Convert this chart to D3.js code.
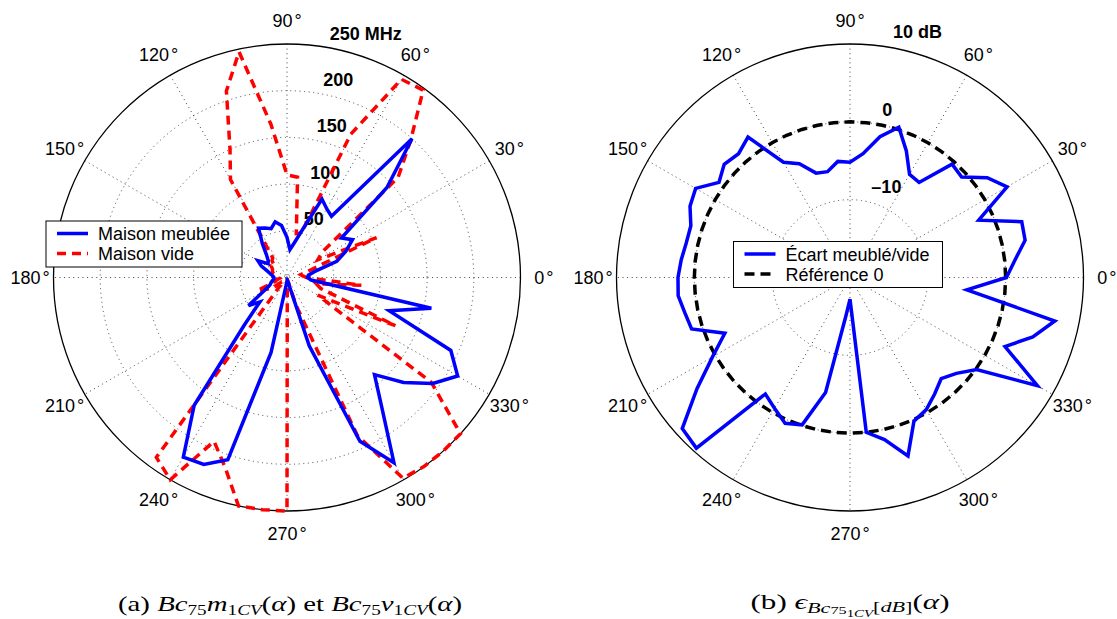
<!DOCTYPE html>
<html><head><meta charset="utf-8">
<script src="https://cdn.jsdelivr.net/npm/d3@7"></script>
<style>
body{margin:0;background:#fff;}
svg text{font-family:"Liberation Sans",Arial,Helvetica,sans-serif;fill:#000;}
</style></head><body>
<svg id="c" width="1117" height="619"></svg>
<script>
// ---------- DATA ----------
const angles = [0,6,12,18,24,30,36,42,48,54,60,66,72,78,84,90,96,102,108,114,120,126,132,138,144,150,156,162,168,174,180,186,192,198,204,210,216,222,228,234,240,246,252,258,264,270,276,282,288,294,300,306,312,318,324,330,336,342,348,354];
const meublee = [22,23,30,56,69,81,72,144,200,81, 85,92,54,38,30,43,56,61,55,58, 61,45,33,27,25,36,30,22,18,15, 14,14,16,18,20,28,51,39,68,169, 222,219,205,82,8,4,3,4,77,192, 229,173,140,168,193,211,192,115,158,26];
const vide = [21,17,15,27,105,38,47,160,198,248, 245,168,50,48,108,110,165,247,210,150, 121,26,24,18,21,18,17,16,13,10, 9,8,11,13,35,25,19,5,8,238, 250,192,214,250,250,250,3,3,31,185, 248,250,250,250,191,38,127,38,32,80];
const ecart = [0.1,1.3,3.0,3.2,-1.9,3.3,1.8,-0.7,-0.4,-4.9, -4.7,-2.2,0.3,-1.5,-4.0,-5.2,-5.0,-6.1,-5.9,-4.0, -2.9,2.3,1.4,1.75,0.8,2.9,2.5,1.5,1.5,1.8, 2.1,2.2,1.7,1.4,-2.4,0.4,4.3,9.0,9.5,-1.5, -0.6,0.5,-0.1,-4.9,-15.1,-17.2,0.0,1.3,4.1,0.2, -0.4,-1.5,-2.5,-1.6,0.1,7.8,1.8,4.7,6.9,-4.9];
const reference = 0;
const angleTicks = [0,30,60,90,120,150,180,210,240,270,300,330];
const mhzRings = [50,100,150,200];
const mhzLabelVals = [50,100,150,200,250];
const mhzLabels = ["50","100","150","200","250 MHz"];
const dbRings = [-10,0];
const dbLabelVals = [-10,0,10];
const dbLabels = ["\u201310","0","10 dB"];
const legendA = ["Maison meublée","Maison vide"];
const legendB = ["Écart meublé/vide","Référence 0"];

// ---------- LAYOUT ----------
const svg = d3.select("#c");
const R = 233.5;
const rad = d => d*Math.PI/180;

function polarFrame(cx, cy, rs, rMax, rings, labelVals, labels, rinc){
  const g = svg.append("g").attr("transform",`translate(${cx},${cy})`);
  const dot = {stroke:"#444","stroke-width":1,"stroke-dasharray":"1,3.6",fill:"none"};
  [0,30,60,90,120,150].forEach(a=>{
    const l = g.append("line")
      .attr("x1", R*Math.cos(rad(a))).attr("y1", -R*Math.sin(rad(a)))
      .attr("x2", -R*Math.cos(rad(a))).attr("y2", R*Math.sin(rad(a)));
    Object.entries(dot).forEach(([k,v])=>l.attr(k,v));
  });
  rings.forEach(v=>{
    const c = g.append("circle").attr("r", rs(v));
    Object.entries(dot).forEach(([k,v2])=>c.attr(k,v2));
  });
  g.append("circle").attr("r", rs(rMax)).attr("fill","none").attr("stroke","#000").attr("stroke-width",1.3);
  angleTicks.forEach(a=>{
    const t = g.append("text")
      .attr("x", 1.1*R*Math.cos(rad(a))).attr("y", -1.1*R*Math.sin(rad(a)))
      .attr("text-anchor","middle").attr("dominant-baseline","central")
      .style("font-size","18px");
    t.append("tspan").text(a);
    t.append("tspan").attr("dx",2).text("°");
  });
  labelVals.forEach((v,i)=>{
    const rr = rs(v + rinc/20);
    g.append("text")
      .attr("x", rr*Math.cos(rad(82)) + 10)
      .attr("y", -rr*Math.sin(rad(82)) - 4)
      .style("font-size","18px").style("font-weight","bold")
      .text(labels[i]);
  });
  return g;
}

function radialLine(rs){
  return d3.lineRadial()
    .angle(d => rad(90 - d[0]))
    .radius(d => rs(d[1]))
    .curve(d3.curveLinearClosed);
}

// ---------- LEFT ----------
const rsA = d3.scaleLinear().domain([0,250]).range([0,R]);
const gA = polarFrame(287, 277.5, rsA, 250, mhzRings, mhzLabelVals, mhzLabels, 50);
gA.append("path").datum(angles.map((a,i)=>[a,vide[i]]))
  .attr("d", radialLine(rsA)).attr("fill","none").attr("stroke","#ff0000")
  .attr("stroke-width",3.5).attr("stroke-dasharray","9,6");
gA.append("path").datum(angles.map((a,i)=>[a,meublee[i]]))
  .attr("d", radialLine(rsA)).attr("fill","none").attr("stroke","#0000ff")
  .attr("stroke-width",3.5).attr("stroke-linejoin","miter");

// ---------- RIGHT ----------
const rsB = d3.scaleLinear().domain([-20,10]).range([0,R]);
const gB = polarFrame(850, 277.5, rsB, 10, dbRings, dbLabelVals, dbLabels, 10);
gB.append("path").datum(angles.map(a=>[a,reference]))
  .attr("d", radialLine(rsB)).attr("fill","none").attr("stroke","#000")
  .attr("stroke-width",3.5).attr("stroke-dasharray","10,6");
gB.append("path").datum(angles.map((a,i)=>[a,ecart[i]]))
  .attr("d", radialLine(rsB)).attr("fill","none").attr("stroke","#0000ff")
  .attr("stroke-width",3.5);

// ---------- LEGENDS ----------
function legend(x,y,w,h,items,styles){
  const g = svg.append("g").attr("transform",`translate(${x},${y})`);
  g.append("rect").attr("width",w).attr("height",h).attr("fill","#fff").attr("stroke","#000").attr("stroke-width",1);
  items.forEach((t,i)=>{
    const yy = 12.5 + i*20;
    const l = g.append("line").attr("x1",11).attr("x2",42).attr("y1",yy).attr("y2",yy)
      .attr("stroke",styles[i].c).attr("stroke-width",3.5);
    if(styles[i].d) l.attr("stroke-dasharray",styles[i].d);
    g.append("text").attr("x",52).attr("y",yy+6.5).style("font-size","18px").text(t);
  });
}
legend(46,221,196,46,legendA,[{c:"#0000ff"},{c:"#ff0000",d:"9,6"}]);
legend(733.5,241.5,209,46,legendB,[{c:"#0000ff"},{c:"#000",d:"10,6"}]);

// ---------- CAPTIONS ----------
function cap(x, y, len, parts){
  const t = svg.append("text").attr("x",x).attr("y",y).attr("text-anchor","middle")
    .attr("textLength",len).attr("lengthAdjust","spacingAndGlyphs")
    .style("font-family","'Liberation Serif','Times New Roman',serif").style("font-size","21px");
  parts.forEach(p=>{
    const s = t.append("tspan").text(p.t);
    if(p.i) s.style("font-style","italic");
    if(p.s) s.style("font-size",p.s+"px");
    if(p.dy) s.attr("dy",p.dy);
  });
}
cap(290,611,344,[{t:"(a) "},{t:"Bc",i:1},{t:"75",s:14,dy:4},{t:"m",i:1,dy:-4},{t:"1",s:14,dy:4},{t:"CV",i:1,s:14},
  {t:"(",dy:-4},{t:"α",i:1},{t:") et "},{t:"Bc",i:1},{t:"75",s:14,dy:4},{t:"v",i:1,dy:-4},{t:"1",s:14,dy:4},{t:"CV",i:1,s:14},
  {t:"(",dy:-4},{t:"α",i:1},{t:")"}]);
cap(850,609,199,[{t:"(b) "},{t:"ϵ",i:1},{t:"Bc",i:1,s:15,dy:4},{t:"75",s:11,dy:1},{t:"1",s:10,dy:3},{t:"CV",i:1,s:10},
  {t:"[",s:15,dy:-5},{t:"dB",i:1,s:15},{t:"]",s:15},{t:"(",dy:-3},{t:"α",i:1},{t:")"}]);
</script>
</body></html>
